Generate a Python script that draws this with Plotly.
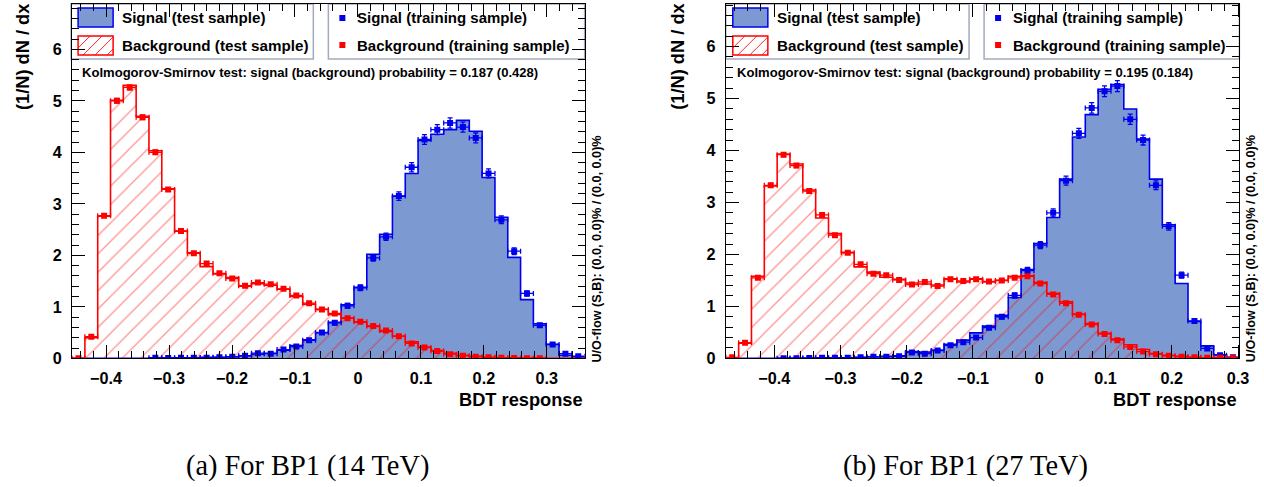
import numpy as np
import plotly.graph_objects as go

W, H = 1264, 487
# the photographed page shows the figure slightly shrunk; compensate in layout positions
SX, SY = 0.991, 0.982
FS = 1 / ((SX + SY) / 2)

# ---------------- data ----------------
x_range_14 = (-0.454, 0.360)
x_range_27 = (-0.473, 0.302)
y_max_14 = 6.88
y_max_27 = 6.82

sig_test_14 = [0, 0, 0, 0, 0, 0, 0.01, 0.01, 0.01, 0.01, 0.02, 0.02, 0.03, 0.05, 0.08, 0.10,
               0.16, 0.25, 0.36, 0.50, 0.70, 1.04, 1.38, 2.02, 2.41, 3.15, 3.59, 4.23, 4.35, 4.44,
               4.62, 4.41, 3.51, 2.74, 1.96, 1.14, 0.67, 0.27, 0.06, 0.03]
sig_train_14 = [None, None, None, None, None, None, 0.01, 0.005, 0.01, 0.01, 0.01, 0.02, 0.03, 0.05,
                0.10, 0.09, 0.17, 0.23, 0.35, 0.50, 0.69, 1.02, 1.37, 1.95, 2.36, 3.15, 3.71, 4.25,
                4.44, 4.57, 4.49, 4.28, 3.59, 2.69, 2.08, 1.26, 0.64, 0.27, 0.09, 0.04]
bkg_test_14 = [0.0, 0.40, 2.76, 5.01, 5.30, 4.70, 4.03, 3.29, 2.47, 2.05, 1.78, 1.64, 1.57, 1.40,
               1.45, 1.42, 1.34, 1.20, 1.05, 0.95, 0.85, 0.78, 0.70, 0.62, 0.52, 0.43, 0.32, 0.22,
               0.15, 0.10, 0.06, 0.04, 0.02, 0.01, 0.01, 0.005, 0.003, 0, 0, 0]
bkg_train_14 = [0.0, 0.42, 2.77, 5.00, 5.26, 4.68, 4.00, 3.28, 2.47, 2.04, 1.84, 1.65, 1.55, 1.41,
                1.47, 1.44, 1.35, 1.22, 1.07, 0.95, 0.87, 0.78, 0.71, 0.63, 0.54, 0.43, 0.29, 0.21,
                0.14, 0.08, 0.05, 0.03, 0.02, 0.01, 0.005, 0.003, 0.003, None, None, None]

sig_test_27 = [0, 0, 0, 0, 0.005, 0.005, 0.005, 0.01, 0.01, 0.01, 0.02, 0.03, 0.04, 0.05, 0.13,
               0.12, 0.16, 0.27, 0.35, 0.49, 0.62, 0.83, 1.17, 1.71, 2.21, 2.71, 3.45, 4.26, 4.69,
               5.18, 5.27, 4.80, 4.22, 3.45, 2.57, 1.44, 0.71, 0.24, 0.07, 0.02]
sig_train_27 = [None, None, None, None, 0.0, 0.0, 0.005, 0.01, 0.01, 0.01, 0.02, 0.03, 0.03, 0.04,
                0.11, 0.09, 0.15, 0.25, 0.31, 0.40, 0.59, 0.80, 1.21, 1.69, 2.18, 2.80, 3.42, 4.33,
                4.82, 5.14, 5.24, 4.60, 4.20, 3.33, 2.54, 1.60, 0.72, 0.19, 0.06, 0.02]
bkg_test_27 = [0.0, 0.29, 1.58, 3.32, 3.93, 3.74, 3.24, 2.70, 2.40, 2.04, 1.76, 1.66, 1.56, 1.52,
               1.45, 1.43, 1.41, 1.53, 1.47, 1.53, 1.47, 1.50, 1.58, 1.59, 1.46, 1.25, 1.09, 0.85,
               0.67, 0.48, 0.37, 0.26, 0.17, 0.09, 0.06, 0.04, 0.02, 0.01, 0.01, 0.005]
bkg_train_27 = [0.02, 0.30, 1.55, 3.33, 3.92, 3.71, 3.22, 2.76, 2.37, 2.03, 1.81, 1.63, 1.60, 1.51,
                1.42, 1.47, 1.39, 1.52, 1.49, 1.52, 1.48, 1.50, 1.55, 1.58, 1.44, 1.23, 1.06, 0.84,
                0.65, 0.47, 0.35, 0.22, 0.13, 0.08, 0.05, 0.03, 0.02, 0.01, 0.01, 0.01]

ks_14 = "Kolmogorov-Smirnov test: signal (background) probability = 0.187 (0.428)"
ks_27 = "Kolmogorov-Smirnov test: signal (background) probability = 0.195 (0.184)"
uo_text = "U/O-flow (S,B): (0.0, 0.0)% / (0.0, 0.0)%"
caption_14 = "(a) For BP1 (14 TeV)"
caption_27 = "(b) For BP1 (27 TeV)"
y_title = "(1/N) dN / dx"
x_title = "BDT response"
leg_labels = ["Signal (test sample)", "Background (test sample)",
              "Signal (training sample)", "Background (training sample)"]

# ---------------- styling ----------------
SIG_FILL = "#7d99d1"
SIG_LINE = "#0000ee"
BKG = "#ff0000"
HATCH = "rgba(255,0,0,0.85)"
FONT = "Liberation Sans"
BOX = "#a3abbb"


def px(x):
    return (x / SX) / W


def py(y):
    return 1 - (y / SY) / H


fig = go.Figure()


def add_panel(xa, ya, xr, sig_test, sig_train, bkg_test, bkg_train):
    n = len(sig_test)
    w = (xr[1] - xr[0]) / n
    edges = xr[0] + w * np.arange(n + 1)
    centers = edges[:-1] + w / 2
    sx = np.concatenate([[edges[0]], edges[:-1], [edges[-1]]])

    def sy(v):
        return [0] + list(v) + [0]

    fig.add_trace(go.Scatter(x=sx, y=sy(sig_test), mode="lines",
                             line=dict(shape="hv", color=SIG_LINE, width=1.6),
                             fill="tozeroy", fillcolor=SIG_FILL,
                             xaxis=xa, yaxis=ya, showlegend=False, hoverinfo="skip"))
    fig.add_trace(go.Scatter(x=sx, y=sy(bkg_test), mode="lines",
                             line=dict(shape="hv", color=BKG, width=1.6),
                             fill="tozeroy", fillcolor="rgba(0,0,0,0)",
                             fillpattern=dict(shape="/", fgcolor=HATCH,
                                              bgcolor="rgba(0,0,0,0)", size=13, solidity=0.1),
                             xaxis=xa, yaxis=ya, showlegend=False, hoverinfo="skip"))
    for vals, col, k in [(sig_train, SIG_LINE, 0.046), (bkg_train, BKG, 0.02)]:
        err = [k * np.sqrt(v) if v is not None else 0 for v in vals]
        fig.add_trace(go.Scatter(x=centers, y=vals, mode="markers",
                                 marker=dict(color=col, size=6, symbol="square"),
                                 error_y=dict(type="data", array=err, color=col, thickness=1.3, width=2.5),
                                 error_x=dict(type="constant", value=w / 2, color=col, thickness=1.3, width=2.5),
                                 xaxis=xa, yaxis=ya, showlegend=False, hoverinfo="skip"))


add_panel("x", "y", x_range_14, sig_test_14, sig_train_14, bkg_test_14, bkg_train_14)
add_panel("x2", "y2", x_range_27, sig_test_27, sig_train_27, bkg_test_27, bkg_train_27)

tickfont = dict(family=FONT, size=16 * FS, color="black", weight="bold")
common = dict(showline=True, linecolor="black", linewidth=1, mirror="ticks", ticks="inside",
              ticklen=13, tickcolor="black", tickwidth=1, showgrid=False, zeroline=False,
              tickfont=tickfont, fixedrange=True)
xminor = dict(ticks="inside", ticklen=7, dtick=0.02, tick0=0, tickcolor="black", showgrid=False)
yminor = dict(ticks="inside", ticklen=7, dtick=0.2, tick0=0, tickcolor="black", showgrid=False)

ydom = [py(358.5), py(4)]
fig.update_layout(
    width=W, height=H, margin=dict(l=0, r=0, t=0, b=0),
    paper_bgcolor="white", plot_bgcolor="white", showlegend=False,
    xaxis=dict(domain=[px(72), px(584)], range=list(x_range_14), anchor="y", dtick=0.1, tick0=0,
               minor=xminor, ticklabelstandoff=5, **common),
    yaxis=dict(domain=ydom, range=[0, y_max_14], anchor="x", dtick=1, tick0=0,
               minor=yminor, ticklabelstandoff=6, **common),
    xaxis2=dict(domain=[px(725), px(1238)], range=list(x_range_27), anchor="y2", dtick=0.1, tick0=0,
                minor=xminor, ticklabelstandoff=5, **common),
    yaxis2=dict(domain=ydom, range=[0, y_max_27], anchor="x2", dtick=1, tick0=0,
                minor=yminor, ticklabelstandoff=6, **common),
)

shapes = []
annotations = []


def text(x, y, s, size, xanchor="left", angle=0, family=FONT, weight="bold"):
    annotations.append(dict(x=px(x), y=py(y), xref="paper", yref="paper", text=s, showarrow=False,
                            xanchor=xanchor, yanchor="middle", textangle=angle,
                            font=dict(family=family, size=size * FS, color="black", weight=weight)))


def rect(x0, y0, x1, y1, line, fill, lw=1.5):
    shapes.append(dict(type="rect", xref="paper", yref="paper", x0=px(x0), x1=px(x1),
                       y0=py(y1), y1=py(y0), line=dict(color=line, width=lw), fillcolor=fill,
                       layer="below"))


def hatch(x0, y0, x1, y1, step=12):
    h = y1 - y0
    segs = []
    k = x0 - h
    while k < x1:
        ax, ay = k, y1
        bx, by = k + h, y0
        if ax < x0:
            ay = y1 - (x0 - ax)
            ax = x0
        if bx > x1:
            by = y0 + (bx - x1)
            bx = x1
        if bx > ax:
            segs.append(f"M{px(ax)},{py(ay)} L{px(bx)},{py(by)}")
        k += step
    shapes.append(dict(type="path", xref="paper", yref="paper", path=" ".join(segs),
                       line=dict(color=HATCH, width=1), layer="above"))


def dot(x, y, col, r=3):
    shapes.append(dict(type="rect", xref="paper", yref="paper", x0=px(x - r), x1=px(x + r),
                       y0=py(y + r), y1=py(y - r), line=dict(color=col, width=0), fillcolor=col,
                       layer="above"))


def legends(fx0, fx1, box1_r, box2_l, ks):
    rect(fx0, 4, box1_r, 59, BOX, "white")
    rect(box2_l, 4, fx1, 59, BOX, "white")
    sw0 = fx0 + 7
    rect(sw0, 8, sw0 + 35, 27, SIG_LINE, SIG_FILL, lw=1.5)
    rect(sw0, 36, sw0 + 35, 55, BKG, "white", lw=1.5)
    hatch(sw0, 36, sw0 + 35, 55)
    text(sw0 + 42, 18, leg_labels[0], 15)
    text(sw0 + 42, 46, leg_labels[1], 15)
    dot(box2_l + 14, 18, SIG_LINE)
    dot(box2_l + 14, 45, BKG)
    text(box2_l + 27, 18, leg_labels[2], 14.8)
    text(box2_l + 27, 46, leg_labels[3], 14.8)
    text(fx0 + 9, 73, ks, 12.9)
    text(fx0 - 48, 57, y_title, 18, xanchor="center", angle=-90)
    text(fx1, 400, x_title, 18, xanchor="right")
    text(fx1 + 12, 249, uo_text, 12.5, xanchor="center", angle=-90)


legends(71, 584, 313, 328, ks_14)
legends(725, 1238, 968, 983, ks_27)
text(307, 466, caption_14, 28, xanchor="center", family="Liberation Serif", weight="normal")
text(964, 466, caption_27, 28, xanchor="center", family="Liberation Serif", weight="normal")

fig.update_layout(shapes=shapes, annotations=annotations)
fig.write_html("out.html")
